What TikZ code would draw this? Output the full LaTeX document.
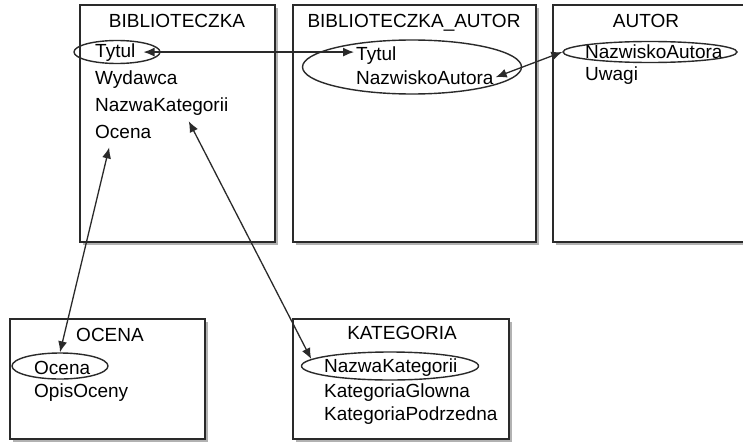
\documentclass[tikz,border=0pt]{standalone}
\usepackage{fontspec}
\setmainfont{Liberation Sans}
\usepackage{tikz}
\usetikzlibrary{arrows.meta, positioning, shapes.geometric, shadows}

\definecolor{linegray}{HTML}{2A2A2A}

\begin{document}
\begin{tikzpicture}[x=1pt, y=-1pt,
    every node/.style={font=\fontsize{19}{22}\selectfont, text=black},
    tablebox/.style={draw=linegray, line width=1.7pt, fill=white,
      drop shadow={shadow xshift=3pt, shadow yshift=-3pt, fill=black!30, opacity=1}},
    field/.style={anchor=base west, inner sep=2pt},
    title/.style={anchor=base, inner sep=2pt},
    key/.style={draw=linegray, line width=1.4pt, ellipse, inner sep=0pt},
    link/.style={{Latex[length=11pt,width=9pt]}-{Latex[length=11pt,width=9pt]},
      line width=1.3pt, draw=linegray}]
  \path[use as bounding box, clip] (0,0) rectangle (743,444);
  % ---------- TABLES ----------
  \draw[tablebox] (80,5) rectangle (275,242);
  \draw[tablebox] (293,5) rectangle (536,242);
  \draw[tablebox] (553,5) rectangle (770,242);
  \draw[tablebox] (10,319) rectangle (205,439);
  \draw[tablebox] (293,319) rectangle (509,439);
  % ---------- BIBLIOTECZKA ----------
  \node[title] (bibTitle) at (177,28) {BIBLIOTECZKA};
  \node[field] (bibTytul) at (93,57) {Tytul};
  \node[field] (bibWydawca) at (93,84) {Wydawca};
  \node[field] (bibNazwaKat) at (93,111) {NazwaKategorii};
  \node[field] (bibOcena) at (93,138) {Ocena};
  \node[key, minimum width=86pt, minimum height=23pt] (keyTytul) at (117,52) {};
  % ---------- BIBLIOTECZKA_AUTOR ----------
  \node[title] (baTitle) at (414,28) {BIBLIOTECZKA\_AUTOR};
  \node[field] (baTytul) at (354,60) {Tytul};
  \node[field] (baNazwisko) at (354,84) {NazwiskoAutora};
  \node[key, minimum width=219pt, minimum height=54pt] (keyBa) at (412,67) {};
  % ---------- AUTOR ----------
  \node[title] (autTitle) at (646,28) {AUTOR};
  \node[field] (autNazwisko) at (583,59) {NazwiskoAutora};
  \node[field] (autUwagi) at (583,80) {Uwagi};
  \node[key, minimum width=174pt, minimum height=21pt] (keyAutor) at (650,52) {};
  % ---------- OCENA ----------
  \node[title] (ocTitle) at (110,341) {OCENA};
  \node[field] (ocOcena) at (32,374) {Ocena};
  \node[field] (ocOpis) at (32,397) {OpisOceny};
  \node[key, minimum width=96pt, minimum height=26pt] (keyOcena) at (60,366) {};
  % ---------- KATEGORIA ----------
  \node[title] (katTitle) at (402,339) {KATEGORIA};
  \node[field] (katNazwa) at (322,372) {NazwaKategorii};
  \node[field] (katGlowna) at (322,397) {KategoriaGlowna};
  \node[field] (katPodrzedna) at (322,420) {KategoriaPodrzedna};
  \node[key, minimum width=177pt, minimum height=28pt] (keyKat) at (390,366) {};
  % ---------- LINKS ----------
  \draw[link] ([xshift=6pt]bibTytul.east) -- (baTytul.west |- bibTytul.east);
  \draw[link] (baNazwisko.east) -- (keyAutor.west);
  \draw[link] ([xshift=-14pt,yshift=-7pt]bibOcena.south) -- (keyOcena.north);
  \draw[link] ([xshift=27pt,yshift=-4pt]bibNazwaKat.south) -- (keyKat.175);
\end{tikzpicture}
\end{document}
